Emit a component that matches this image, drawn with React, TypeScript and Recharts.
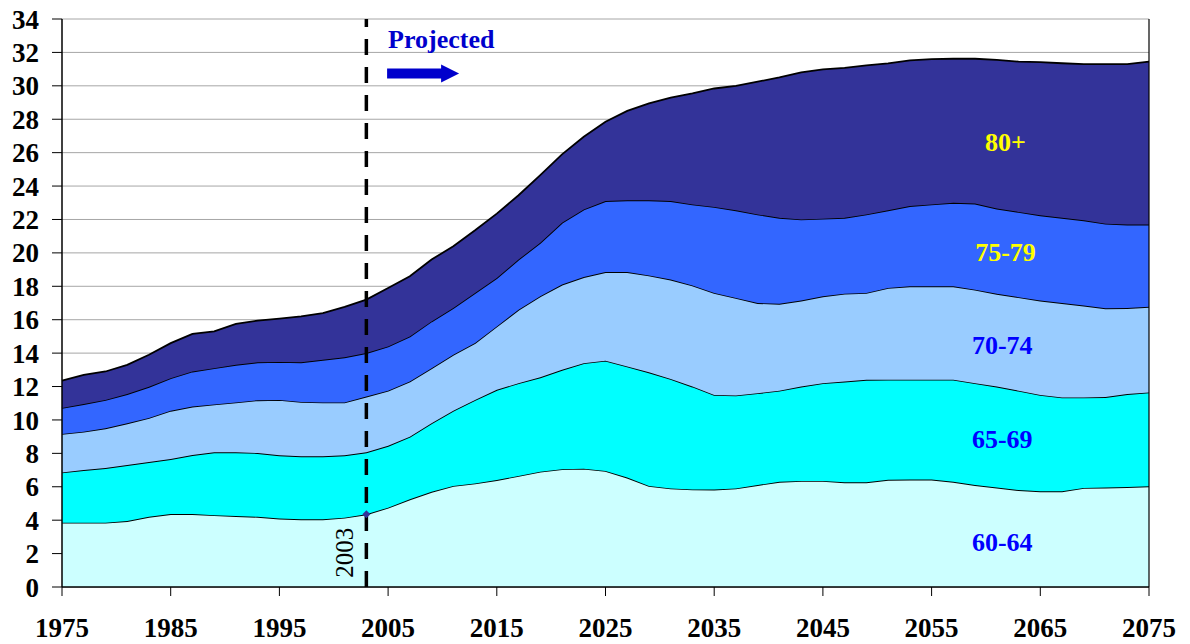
import React from 'react';
import { AreaChart, Area, XAxis, YAxis, CartesianGrid, ReferenceLine, ReferenceDot } from 'recharts';

const SERIF = 'Liberation Serif, Times New Roman, Times, serif';

const years = [
  1975, 1977, 1979, 1981, 1983, 1985, 1987, 1989, 1991, 1993, 1995, 1997, 1999,
  2001, 2003, 2005, 2007, 2009, 2011, 2013, 2015, 2017, 2019, 2021, 2023, 2025,
  2027, 2029, 2031, 2033, 2035, 2037, 2039, 2041, 2043, 2045, 2047, 2049, 2051,
  2053, 2055, 2057, 2059, 2061, 2063, 2065, 2067, 2069, 2071, 2073, 2075,
];

const age60_64 = [
  3.85, 3.85, 3.85, 3.95, 4.2, 4.37, 4.37, 4.3, 4.25, 4.2, 4.1, 4.05, 4.05,
  4.15, 4.35, 4.75, 5.25, 5.7, 6.05, 6.2, 6.4, 6.65, 6.9, 7.05, 7.08, 6.95,
  6.55, 6.05, 5.9, 5.84, 5.83, 5.9, 6.1, 6.3, 6.35, 6.35, 6.27, 6.27, 6.42,
  6.43, 6.43, 6.3, 6.1, 5.95, 5.8, 5.73, 5.73, 5.93, 5.95, 5.98, 6.03,
];
const age65_69 = [
  3.01, 3.15, 3.27, 3.35, 3.28, 3.29, 3.53, 3.76, 3.81, 3.82, 3.78, 3.77, 3.77,
  3.73, 3.71, 3.7, 3.75, 4.1, 4.5, 5.0, 5.4, 5.55, 5.65, 5.95, 6.32, 6.6,
  6.65, 6.8, 6.55, 6.16, 5.67, 5.57, 5.5, 5.45, 5.65, 5.85, 6.03, 6.13, 5.99,
  5.98, 5.98, 6.11, 6.1, 6.05, 5.95, 5.77, 5.62, 5.42, 5.42, 5.57, 5.62,
];
const age70_74 = [
  2.3, 2.3, 2.38, 2.5, 2.64, 2.89, 2.9, 2.87, 2.99, 3.16, 3.32, 3.26, 3.23,
  3.17, 3.34, 3.3, 3.3, 3.3, 3.35, 3.4, 3.8, 4.4, 4.85, 5.1, 5.15, 5.3,
  5.65, 5.8, 5.95, 6.05, 6.1, 5.83, 5.4, 5.2, 5.15, 5.2, 5.26, 5.2, 5.49,
  5.59, 5.59, 5.59, 5.6, 5.55, 5.6, 5.65, 5.65, 5.5, 5.31, 5.15, 5.12,
];
const age75_79 = [
  1.56, 1.65, 1.7, 1.75, 1.86, 1.95, 2.1, 2.17, 2.25, 2.27, 2.27, 2.37, 2.55,
  2.7, 2.6, 2.65, 2.7, 2.8, 2.8, 3.0, 2.9, 3.0, 3.2, 3.7, 4.05, 4.25,
  4.3, 4.5, 4.7, 4.85, 5.15, 5.25, 5.3, 5.15, 4.85, 4.65, 4.54, 4.7, 4.65,
  4.8, 4.9, 5.0, 5.15, 5.1, 5.1, 5.1, 5.1, 5.1, 5.07, 5.0, 4.93,
];
const age80plus = [
  1.63, 1.75, 1.7, 1.75, 1.92, 2.1, 2.25, 2.2, 2.45, 2.5, 2.6, 2.75, 2.8,
  3.02, 3.2, 3.5, 3.6, 3.7, 3.7, 3.75, 3.85, 3.85, 4.05, 4.1, 4.35, 4.75,
  5.35, 5.8, 6.2, 6.65, 7.09, 7.45, 7.95, 8.4, 8.8, 8.93, 8.98, 8.92, 8.8,
  8.72, 8.7, 8.62, 8.67, 8.9, 9.0, 9.17, 9.25, 9.35, 9.55, 9.6, 9.75,
];

const xTicks = [1975, 1985, 1995, 2005, 2015, 2025, 2035, 2045, 2055, 2065, 2075];
const yTicks = [0, 2, 4, 6, 8, 10, 12, 14, 16, 18, 20, 22, 24, 26, 28, 30, 32, 34];

const seriesNames = ['60-64', '65-69', '70-74', '75-79', '80+'];
const seriesColors = ['#CCFFFF', '#00FFFF', '#99CCFF', '#3366FF', '#333399'];
const labelColors = ['#0000FF', '#0000FF', '#0000FF', '#FFFF00', '#FFFF00'];
const labelYears = [2061.5, 2061.5, 2061.5, 2061.8, 2061.8];
const labelValues = [2.66, 8.82, 14.45, 20.0, 26.6];

const data = years.map((year, i) => ({
  year,
  s0: age60_64[i],
  s1: age65_69[i],
  s2: age70_74[i],
  s3: age75_79[i],
  s4: age80plus[i],
}));

const tickStyle = { fill: '#000', fontSize: 27, fontWeight: 'bold', fontFamily: SERIF };

export default function App() {
  return (
    <div
      style={{
        position: 'absolute',
        left: 0,
        top: 0,
        width: 1190,
        height: 644,
        background: '#fff',
        fontFamily: SERIF,
      }}
    >
      <AreaChart
        width={1190}
        height={644}
        data={data}
        margin={{ top: 19, right: 41, bottom: 0, left: 0 }}
        style={{ fontFamily: SERIF }}
      >
        <CartesianGrid vertical={false} stroke="#a6a6a6" strokeWidth={1} />
        <XAxis
          dataKey="year"
          type="number"
          domain={[1975, 2075]}
          ticks={xTicks}
          interval={0}
          height={57}
          tickSize={9}
          tickMargin={22}
          axisLine={{ stroke: '#000', strokeWidth: 1.5 }}
          tickLine={{ stroke: '#000', strokeWidth: 1 }}
          tick={tickStyle}
        />
        <YAxis
          type="number"
          domain={[0, 34]}
          ticks={yTicks}
          interval={0}
          width={62}
          tickSize={10}
          tickMargin={13}
          axisLine={{ stroke: '#000', strokeWidth: 1.5 }}
          tickLine={{ stroke: '#000', strokeWidth: 1 }}
          tick={tickStyle}
        />
        {seriesNames.map((name, i) => (
          <Area
            key={name}
            name={name}
            dataKey={'s' + i}
            stackId="pop"
            type="linear"
            stroke="#000"
            strokeWidth={1.8}
            fill={seriesColors[i]}
            fillOpacity={1}
            dot={false}
            activeDot={false}
            isAnimationActive={false}
          />
        ))}
        <ReferenceLine x={2075} stroke="#000" strokeWidth={1.2} />
        <ReferenceLine x={2003} stroke="#000" strokeWidth={3.5} strokeDasharray="16 12" />
        <ReferenceDot
          x={2003}
          y={4.35}
          r={3}
          isFront
          shape={(p: any) => (
            <path d={`M${p.cx},${p.cy - 4} L${p.cx + 4},${p.cy} L${p.cx},${p.cy + 4} L${p.cx - 4},${p.cy} Z`} fill="#333399" />
          )}
        />
        <ReferenceDot
          x={2001}
          y={2.05}
          r={1}
          isFront
          shape={(p: any) => (
            <text
              x={p.cx}
              y={p.cy}
              transform={`rotate(-90 ${p.cx} ${p.cy})`}
              textAnchor="middle"
              dominantBaseline="central"
              style={{ fontFamily: SERIF, fontSize: 25 }}
              fill="#000"
            >
              2003
            </text>
          )}
        />
        <ReferenceDot
          x={2005}
          y={32.77}
          r={1}
          isFront
          shape={(p: any) => (
            <g>
              <text
                x={p.cx}
                y={p.cy}
                textAnchor="start"
                dominantBaseline="central"
                style={{ fontFamily: SERIF, fontWeight: 'bold', fontSize: 26 }}
                fill="#0000CC"
              >
                Projected
              </text>
              <path
                d={`M${p.cx - 1},${p.cy + 29} L${p.cx + 53},${p.cy + 29} L${p.cx + 53},${p.cy + 25} L${p.cx + 71},${p.cy + 34} L${p.cx + 53},${p.cy + 43} L${p.cx + 53},${p.cy + 39} L${p.cx - 1},${p.cy + 39} Z`}
                fill="#0000CC"
              />
            </g>
          )}
        />
        {seriesNames.map((name, i) => (
          <ReferenceDot
            key={'lbl' + name}
            x={labelYears[i]}
            y={labelValues[i]}
            r={1}
            isFront
            shape={(p: any) => (
              <text
                x={p.cx}
                y={p.cy}
                textAnchor="middle"
                dominantBaseline="central"
                style={{ fontFamily: SERIF, fontWeight: 'bold', fontSize: 26 }}
                fill={labelColors[i]}
              >
                {name}
              </text>
            )}
          />
        ))}
      </AreaChart>
    </div>
  );
}
